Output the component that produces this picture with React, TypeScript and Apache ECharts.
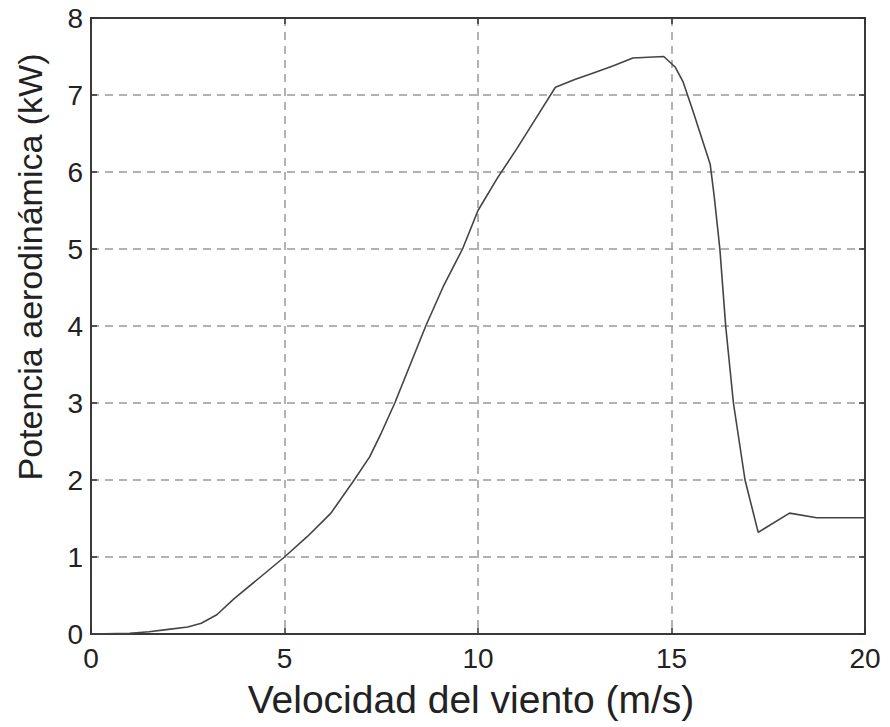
import React, { useEffect, useRef } from "react";
import * as echarts from "echarts";

const windSpeed = [0, 1, 1.5, 2, 2.5, 2.85, 3.25, 3.7, 4.4, 5, 5.6, 6.2, 6.8, 7.2, 7.5, 7.85, 8.65, 9.1, 9.6, 10, 10.5, 11, 11.5, 12, 12.5, 13, 13.5, 14, 14.8, 15.1, 15.3, 15.55, 16, 16.1, 16.25, 16.4, 16.6, 16.9, 17.24, 18.05, 18.75, 20];
const power = [0, 0.01, 0.03, 0.06, 0.09, 0.14, 0.25, 0.46, 0.75, 1.0, 1.27, 1.57, 2.0, 2.3, 2.61, 3.0, 4.0, 4.51, 5.0, 5.5, 5.92, 6.3, 6.7, 7.1, 7.2, 7.29, 7.38, 7.48, 7.5, 7.36, 7.17, 6.8, 6.1, 5.7, 5.0, 4.0, 3.0, 2.0, 1.32, 1.57, 1.51, 1.51];

const xTitle = "Velocidad del viento (m/s)";
const yTitle = "Potencia aerodinámica (kW)";

const FONT = "'Liberation Sans', Arial, Helvetica, sans-serif";
const TEXT = "#222";

export default function App() {
  const ref = useRef<HTMLDivElement>(null);
  useEffect(() => {
    if (!ref.current) return;
    const chart = echarts.init(ref.current, null, { renderer: "svg" });
    const mkTick = () => ({ show: true, inside: true, length: 6, lineStyle: { color: "#333", width: 1.5 } });
    const mkSplit = () => ({ show: true, showMinLine: false, showMaxLine: false, lineStyle: { color: "#999", width: 1.5, type: [8, 6] as any } });
    const mkLine = () => ({ show: true, onZero: false, lineStyle: { color: "#3a3a3a", width: 2 } });
    chart.setOption({
      animation: false,
      backgroundColor: "#fff",
      grid: { left: 91, right: 25, top: 18, bottom: 93, show: true, borderColor: "#3a3a3a", borderWidth: 2, backgroundColor: "rgba(0,0,0,0)" },
      xAxis: [
        {
          type: "value", min: 0, max: 20, interval: 5, position: "bottom",
          axisLine: mkLine(), axisTick: mkTick(), splitLine: mkSplit(),
          axisLabel: { fontSize: 28, color: TEXT, fontFamily: FONT, margin: 10 },
        },
        {
          type: "value", min: 0, max: 20, interval: 5, position: "top",
          axisLine: mkLine(), axisTick: mkTick(), splitLine: { show: false },
          axisLabel: { show: false },
        },
      ],
      yAxis: [
        {
          type: "value", min: 0, max: 8, interval: 1, position: "left",
          axisLine: mkLine(), axisTick: mkTick(), splitLine: mkSplit(),
          axisLabel: { fontSize: 28, color: TEXT, fontFamily: FONT, margin: 8 },
        },
        {
          type: "value", min: 0, max: 8, interval: 1, position: "right",
          axisLine: mkLine(), axisTick: mkTick(), splitLine: { show: false },
          axisLabel: { show: false },
        },
      ],
      graphic: [
        {
          type: "text", x: 471, y: 699,
          style: { text: xTitle, fontSize: 39, fontFamily: FONT, fill: TEXT, align: "center", verticalAlign: "middle" },
        },
        {
          type: "text", x: 30, y: 267, rotation: Math.PI / 2,
          style: { text: yTitle, fontSize: 34, fontFamily: FONT, fill: TEXT, align: "center", verticalAlign: "middle" },
        },
      ],
      series: [
        {
          type: "line",
          data: windSpeed.map((x, i) => [x, power[i]]),
          showSymbol: false,
          lineStyle: { color: "#444", width: 1.6 },
          xAxisIndex: 0, yAxisIndex: 0,
        },
      ],
    });
    return () => chart.dispose();
  }, []);
  return <div ref={ref} style={{ position: "fixed", left: 0, top: 0, width: 890, height: 727 }} />;
}
